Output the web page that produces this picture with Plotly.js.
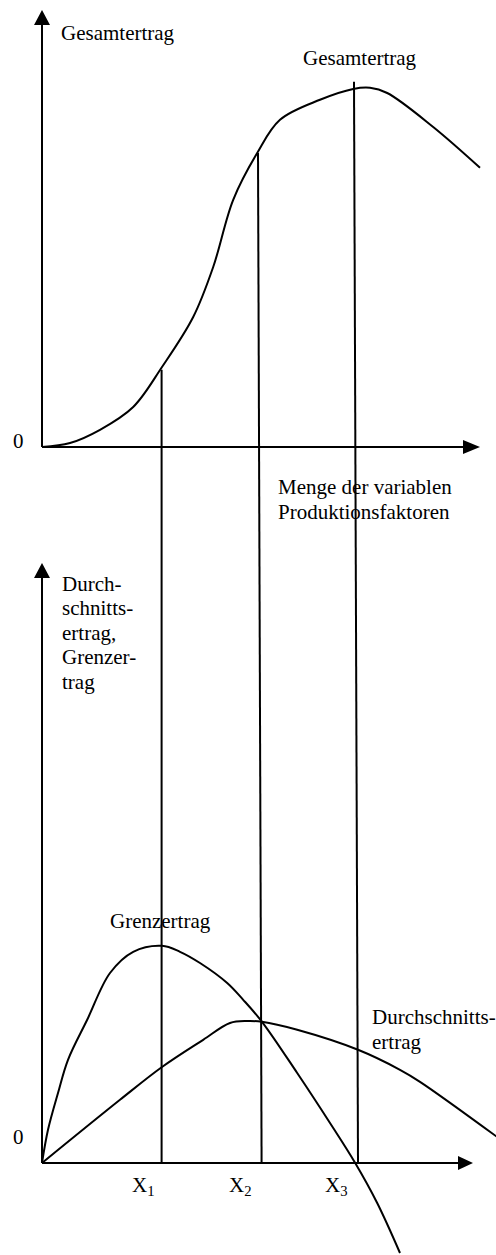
<!DOCTYPE html>
<html><head><meta charset="utf-8">
<script src="https://cdn.plot.ly/plotly-3.0.1.min.js"></script>
<style>html,body{margin:0;padding:0;background:#fff;}#chart{width:496px;height:1255px;}</style>
</head><body><div id="chart"></div>
<script>
// ---- Data (units of the diagram) ----
// Upper panel: Gesamtertrag (total product)
const totalX = [0, 0.7, 1.45, 2.28, 3.0, 3.78, 4.28, 4.78, 5.38, 5.95, 6.95, 7.78, 8.2, 8.63, 9.78, 10.95];
const totalY = [0, 0.1, 0.43, 1.0, 2.0, 3.25, 4.5, 6.18, 7.35, 8.18, 8.68, 8.95, 8.98, 8.85, 8.0, 6.98];
// Lower panel: Grenzertrag (marginal product)
const marginalX = [0, 0.15, 0.4, 0.65, 1.13, 1.7, 2.28, 3.0, 3.45, 3.95, 4.63, 5.03, 5.5, 6.38, 7.2, 7.83, 8.38, 8.95];
const marginalY = [0, 0.83, 1.75, 2.58, 3.58, 4.75, 5.28, 5.43, 5.28, 5.0, 4.5, 4.08, 3.53, 2.25, 1.0, 0, -1.0, -2.25];
// Lower panel: Durchschnittsertrag (average product)
const averageX = [0, 1.95, 3.0, 4.03, 4.7, 5.13, 5.5, 6.38, 7.9, 8.95, 9.45, 11.38];
const averageY = [0, 1.58, 2.4, 3.08, 3.5, 3.55, 3.53, 3.33, 2.83, 2.33, 2.03, 0.65];
// Drop lines at X1, X2, X3 (upper end on top panel, lower end on bottom axis)
const dropLabels = ["X<sub>1</sub>", "X<sub>2</sub>", "X<sub>3</sub>"];
const dropTopX = [2.99, 5.4, 7.8];
const dropTopY = [1.93, 7.35, 9.13];
const dropBotX = [2.99, 5.49, 7.9];

// ---- Layout geometry ----
const S = 40;               // pixels per unit
const W = 496, H = 1255;
const ox = 42, oyTop = 447, oyBot = 1163;
const xr = [-ox / S, (W - ox) / S];
const yTopR = [(oyTop - H) / S, oyTop / S];
const yBotR = [(oyBot - H) / S, oyBot / S];
const px = p => (p - ox) / S;
const ty = p => (oyTop - p) / S;
const by = p => (oyBot - p) / S;
const botToTop = v => v + (yTopR[1] - yBotR[1]);

const lineStyle = {color: '#000', width: 2};
const curve = Object.assign({shape: 'spline', smoothing: 1.0}, lineStyle);
const traces = [
  {x: totalX, y: totalY, mode: 'lines', line: curve, xaxis: 'x', yaxis: 'y'},
  {x: marginalX, y: marginalY, mode: 'lines', line: curve, xaxis: 'x', yaxis: 'y2'},
  {x: averageX, y: averageY, mode: 'lines', line: curve, xaxis: 'x', yaxis: 'y2'}
];
dropTopX.forEach((x0, i) => {
  traces.push({x: [x0, dropBotX[i]], y: [dropTopY[i], botToTop(0)], mode: 'lines', line: lineStyle, xaxis: 'x', yaxis: 'y'});
});

function tri(tip, b1, b2) {
  return `M ${tip[0]},${tip[1]} L ${b1[0]},${b1[1]} L ${b2[0]},${b2[1]} Z`;
}
const shapes = [];
// upper axes
shapes.push({type: 'line', xref: 'x', yref: 'y', x0: 0, y0: 0, x1: 0, y1: ty(25), line: lineStyle});
shapes.push({type: 'path', xref: 'x', yref: 'y', path: tri([0, ty(10)], [px(34), ty(25)], [px(50), ty(25)]), fillcolor: '#000', line: {width: 0}});
shapes.push({type: 'line', xref: 'x', yref: 'y', x0: 0, y0: 0, x1: px(465), y1: 0, line: lineStyle});
shapes.push({type: 'path', xref: 'x', yref: 'y', path: tri([px(480), 0], [px(463), ty(440)], [px(463), ty(454)]), fillcolor: '#000', line: {width: 0}});
// lower axes
shapes.push({type: 'line', xref: 'x', yref: 'y2', x0: 0, y0: 0, x1: 0, y1: by(578), line: lineStyle});
shapes.push({type: 'path', xref: 'x', yref: 'y2', path: tri([0, by(563)], [px(34), by(578)], [px(50), by(578)]), fillcolor: '#000', line: {width: 0}});
shapes.push({type: 'line', xref: 'x', yref: 'y2', x0: 0, y0: 0, x1: px(460), y1: 0, line: lineStyle});
shapes.push({type: 'path', xref: 'x', yref: 'y2', path: tri([px(473), 0], [px(458), by(1156)], [px(458), by(1170)]), fillcolor: '#000', line: {width: 0}});

const font = {family: 'Liberation Serif, Times New Roman, serif', size: 21, color: '#000'};
function txt(text, xp, yp, anchor) {
  return {text: text, xref: 'paper', yref: 'paper', x: xp / W, y: 1 - yp / H,
          xanchor: anchor || 'left', yanchor: 'middle', showarrow: false, font: font, align: 'left'};
}
const annotations = [
  txt('Gesamtertrag', 59, 33),
  txt('Gesamtertrag', 301, 58),
  txt('0', 18, 441, 'center'),
  txt('Menge der variablen', 276, 487),
  txt('Produktionsfaktoren', 276, 512),
  txt('Durch-', 60, 584),
  txt('schnitts-', 60, 608),
  txt('ertrag,', 60, 633),
  txt('Grenzer-', 60, 657),
  txt('trag', 60, 682),
  txt('Grenzertrag', 108, 921),
  txt('Durchschnitts-', 370, 1017),
  txt('ertrag', 370, 1042),
  txt('0', 18, 1137, 'center')
];
const labelPx = [143, 240, 336];
dropLabels.forEach((t, i) => annotations.push(txt(t, labelPx[i], 1186, 'center')));

const layout = {
  width: W, height: H,
  margin: {l: 0, r: 0, t: 0, b: 0, pad: 0},
  paper_bgcolor: '#fff', plot_bgcolor: '#fff',
  showlegend: false,
  xaxis: {range: xr, visible: false, fixedrange: true},
  yaxis: {range: yTopR, visible: false, fixedrange: true, domain: [0, 1]},
  yaxis2: {range: yBotR, visible: false, fixedrange: true, overlaying: 'y'},
  shapes: shapes,
  annotations: annotations
};
Plotly.newPlot('chart', traces, layout, {staticPlot: true, displayModeBar: false});
</script>
</body></html>
